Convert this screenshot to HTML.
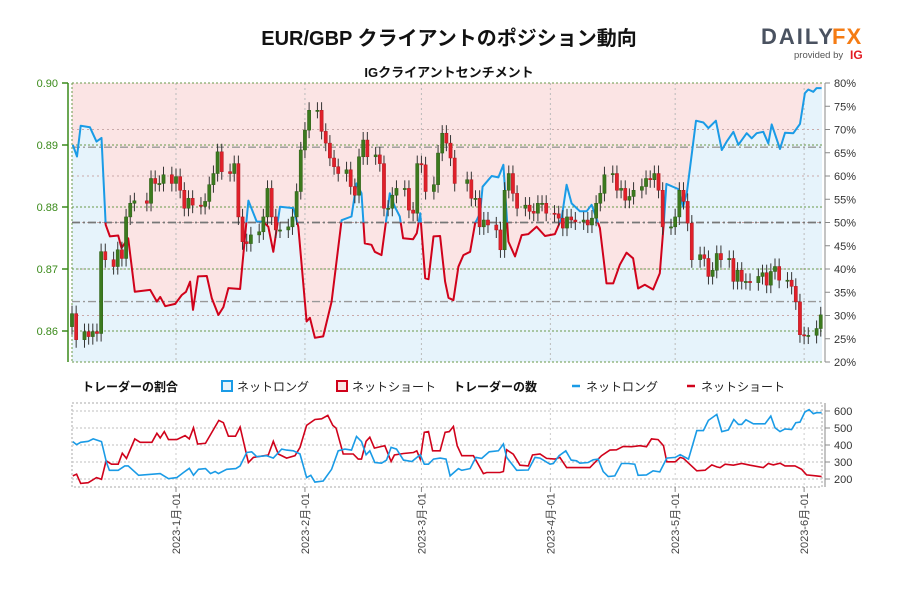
<!DOCTYPE html>
<html><head><meta charset="utf-8">
<style>
html,body{margin:0;padding:0;background:#fff;}
body{width:900px;height:600px;overflow:hidden;font-family:"Liberation Sans","Noto Sans CJK JP",sans-serif;}
svg text{font-family:"Liberation Sans","Noto Sans CJK JP",sans-serif;}
</style></head>
<body>
<svg id="chart" width="900" height="600" viewBox="0 0 900 600" xmlns="http://www.w3.org/2000/svg">
<text x="449" y="45" text-anchor="middle" font-size="20" font-weight="bold" fill="#111">EUR/GBP クライアントのポジション動向</text>
<text x="449" y="77" text-anchor="middle" font-size="13" font-weight="bold" fill="#111">IGクライアントセンチメント</text>
<g>
<text x="761" y="44" font-size="22" font-weight="bold" fill="#4a5260" letter-spacing="2">DAILY</text>
<text x="832" y="44" font-size="22" font-weight="bold" fill="#f57c14" letter-spacing="1">FX</text>
<text x="794" y="58" font-size="9.5" fill="#555">provided by</text>
<text x="850" y="59" font-size="12" font-weight="bold" fill="#e21a22">IG</text>
</g>
<g id="main"></g>
<g id="legend">
<text x="82" y="391" font-size="12" font-weight="bold" fill="#111">トレーダーの割合</text>
<rect x="222" y="381" width="10" height="10" fill="#e6f3fb" stroke="#1a9be6" stroke-width="2"/>
<text x="237" y="391" font-size="12" fill="#222">ネットロング</text>
<rect x="337" y="381" width="10" height="10" fill="#fbe4e4" stroke="#d0021b" stroke-width="2"/>
<text x="352" y="391" font-size="12" fill="#222">ネットショート</text>
<text x="453" y="391" font-size="12" font-weight="bold" fill="#111">トレーダーの数</text>
<line x1="572" y1="386" x2="580" y2="386" stroke="#1a9be6" stroke-width="2.5"/>
<text x="586" y="391" font-size="12" fill="#222">ネットロング</text>
<line x1="687" y1="386" x2="695" y2="386" stroke="#d0021b" stroke-width="2.5"/>
<text x="701" y="391" font-size="12" fill="#222">ネットショート</text>
</g>
<g id="lower"></g>
</svg>
<script>
// ===== data =====
const candleDay=[0,1,3,4,5,6,7,8,10,11,12,13,14,15,18,19,20,21,22,24,25,26,27,28,29,31,32,33,34,35,36,38,39,40,41,42,43,45,46,47,48,49,50,52,53,54,55,56,57,59,60,61,62,63,64,66,67,68,69,70,71,73,74,75,76,77,78,80,81,82,83,84,85,87,88,89,90,91,92,95,96,97,98,99,100,102,103,104,105,106,107,109,110,111,112,113,114,116,117,118,119,120,121,123,124,125,126,127,128,130,131,132,133,134,135,137,138,139,140,141,142,144,145,146,147,148,149,151,152,153,154,155,156,158,159,160,161,162,163,165,166,167,168,169,170,172,173,174,175,176,177,179,180];
const candleClose=[0.8628,0.8586,0.8599,0.8591,0.8599,0.8596,0.8728,0.8715,0.8704,0.8731,0.8717,0.8784,0.8806,0.8810,0.8806,0.8846,0.8838,0.8838,0.8852,0.8838,0.8849,0.8827,0.8798,0.8814,0.8803,0.8801,0.8809,0.8836,0.8854,0.8889,0.8857,0.8854,0.8870,0.8784,0.8744,0.8741,0.8755,0.8760,0.8784,0.8830,0.8784,0.8763,0.8763,0.8768,0.8784,0.8825,0.8892,0.8924,0.8956,0.8956,0.8922,0.8903,0.8879,0.8865,0.8854,0.8860,0.8833,0.8819,0.8881,0.8908,0.8881,0.8884,0.8870,0.8798,0.8798,0.8819,0.8830,0.8830,0.8795,0.8790,0.8870,0.8868,0.8825,0.8836,0.8887,0.8919,0.8903,0.8879,0.8838,0.8844,0.8814,0.8814,0.8768,0.8779,0.8771,0.8763,0.8731,0.8827,0.8854,0.8822,0.8798,0.8803,0.8793,0.8790,0.8806,0.8806,0.8790,0.8789,0.8782,0.8766,0.8784,0.8779,0.8776,0.8779,0.8771,0.8782,0.8806,0.8822,0.8852,0.8854,0.8827,0.8830,0.8811,0.8817,0.8827,0.8833,0.8846,0.8844,0.8854,0.8827,0.8768,0.8768,0.8784,0.8827,0.8809,0.8774,0.8715,0.8723,0.8717,0.8688,0.8698,0.8725,0.8715,0.8717,0.8680,0.8698,0.8680,0.8680,0.8678,0.8688,0.8694,0.8674,0.8696,0.8704,0.8682,0.8682,0.8672,0.8647,0.8594,0.8592,0.8593,0.8604,0.8626];
const firstOpen=0.8607;
const sentDay=[0.2,1.2,2.1,4.3,5.9,7.1,8.1,9.1,11.1,11.9,13.5,15.1,18.8,20.4,21.2,22.4,24.8,26.4,27.4,28.4,29.1,30.3,32.4,33.6,35.2,36.4,37.6,40.4,42.4,44.4,45.9,47.2,48.4,50,53.2,54.4,56.4,57.2,58.4,60.4,62.4,64.8,67.2,68.4,69.6,70.4,72,72.8,74.4,76.4,77.6,78.8,79.6,82,82.9,83.7,84.9,85.7,86.9,88.5,89.7,90.5,91.7,92.9,94.1,95.7,96.9,98.1,98.7,100.9,102.5,103.7,104.9,106.5,108.1,109.7,111.7,113.7,116.1,117.7,118.9,120.1,122.1,123.7,124.9,126.9,128.5,130.1,131.7,133.3,134.9,136.1,137.7,139.7,141.3,142.3,142.9,145.7,146.9,147.8,150,151.8,153,154.8,156.2,157.4,159,160.2,162.2,163.4,164.6,166.2,167.4,168.2,170.2,171.4,173.4,175,176.2,177,178.2,179,180.2];
const sentLong=[66.7,64.2,70.8,70.5,67.4,68.2,49.5,47,47.2,44.5,46.6,35.1,35.5,33,34,32,32.5,34.4,35.1,37.3,31.2,38.4,38.5,33.7,30.1,31.8,35.9,35.7,54.7,50.2,50.2,49.1,43.7,53.4,53.1,49.1,28.7,29.5,25.2,25.5,33,50.5,51.3,58.4,56.3,45.5,45.2,43.7,43,56.3,53.4,51.3,46.6,46.4,47.7,52,38,37.8,47,47.1,37.3,33.8,33.3,40.5,43,43.7,49.8,52,57.7,60,59.7,62.4,45.9,42.7,47.3,47.5,49.1,47.1,47.5,50.9,58.1,54.1,52.4,52.4,53.8,48.8,36.9,36.9,40.9,43.5,42.3,35.8,36.6,35.6,39.1,50.2,58.3,57.2,53.4,56.3,71.9,71.5,70.3,71.9,65.6,67.4,69.5,66.7,69.2,68.1,69.2,69.5,67,71.1,65.8,69.3,69.2,71.2,77.8,78.6,78.1,78.9,78.9];
const longDay=[0.2,1.1,2.1,3.9,5.1,7.1,8.3,9,11.1,12.7,13.5,16,21.2,23.2,25.2,26.8,28.2,29.2,30.4,32.1,33.3,34.4,35.2,37.2,39.4,40.4,42,43.2,44.4,46.8,48.4,50.4,51.6,53.2,54.8,56.4,57.4,58.4,60.4,62.4,64,65.6,67.2,68.4,69.6,70.7,71.6,72.8,74.4,75.6,76.7,78,79.7,81.7,83.7,84.7,85.7,86.9,88.5,89.9,90.9,92.9,93.7,95.7,97.1,98.5,100.3,102.5,103.7,104.5,106.9,109.7,111.3,112.5,114.9,115.7,117.1,118.7,120,121.3,122.1,124.1,125.3,126.5,127.7,128.9,130.5,132.1,133.7,135.3,136.1,138.1,139.7,141.3,143,145,146.2,148.2,150.2,151.8,153,155,156.2,157.8,159.1,160.2,161,162,163.8,166.6,168,169,170.2,171.4,173,174,175,176.2,177.2,178.2,179,180.2];
const longCount=[420,402,416,422,436,420,297,251,251,277,277,222,232,202,208,238,263,222,257,261,232,244,232,257,261,277,356,360,331,337,323,376,370,366,347,208,222,182,188,257,366,376,370,450,420,343,366,297,293,311,386,376,311,303,343,287,287,317,323,317,218,261,251,261,327,321,360,366,406,327,251,253,327,323,287,291,337,366,311,307,293,297,313,317,244,214,218,291,291,287,222,224,248,242,323,327,343,317,485,485,545,580,479,489,550,521,521,548,525,525,570,501,479,495,491,531,535,594,608,584,590,590];
const shortDay=[0.2,1.1,2.1,3.9,5.9,7.1,8.2,9.5,11.1,12.1,13.1,15.1,16.4,19.2,20.4,21.2,22.2,23.2,25.2,27.2,28.2,29.2,30.2,32.1,35.3,36.4,37.6,39.3,40.4,42.4,43.6,47.2,48.4,49.6,51.6,53.6,54.8,56.4,58.4,60,61.5,62.7,63.5,65.2,67.6,68.8,69.6,70.7,71.6,72.7,75.2,76.7,77.5,79.7,82.1,82.9,83.7,84.7,85.7,86.7,88.5,89.7,90.7,91.7,92.6,93.7,96.5,98.9,99.7,102.9,103.7,104.5,106.1,107.7,109.7,110.7,112.5,114.1,116.1,117.3,118.9,124.5,126.5,127.3,129.3,130.9,132.5,134.5,136.5,138.1,139.3,140.9,142.2,143,145,146.2,147,150.2,152.2,153.8,155,155.8,157,159,161,163,166.2,167.4,168.6,170.2,171.4,173.8,175.4,176.6,179,180.2];
const shortCount=[218,228,174,178,208,198,307,287,287,352,321,436,416,416,469,442,479,432,432,455,436,501,406,410,545,531,452,452,505,297,327,341,422,347,323,337,386,515,550,554,574,515,499,347,347,317,317,422,446,382,396,303,341,350,356,366,317,475,479,366,366,475,479,509,396,337,337,232,238,238,244,372,346,281,277,341,347,321,317,327,267,267,317,337,370,372,392,390,396,390,436,432,396,301,301,327,321,248,252,283,271,267,287,281,291,281,267,291,283,293,277,277,257,224,218,214];
const priceTicks=[0.86,0.87,0.88,0.89,0.90];
const priceTickLabels=["0.86","0.87","0.88","0.89","0.90"];
const pctTicks=[20,25,30,35,40,45,50,55,60,65,70,75,80];
const countTicks=[200,300,400,500,600];
const monthDays=[25,56,84,115,145,176];
const monthLabels=["2023-1月-01","2023-2月-01","2023-3月-01","2023-4月-01","2023-5月-01","2023-6月-01"];
const refPcts=[66.2,50,33];

// ===== scales =====
const X0=72,X1=822,DAYS=180.3;
const xS=d=>X0+d*(X1-X0)/DAYS;
const PT=83,PB=362;
const yP=v=>PT+(0.90-v)*6200;
const yPct=p=>PT+(80-p)*(PB-PT)/60;
const LT=403,LB=487;
const yC=v=>411+(600-v)*0.17;
const NS="http://www.w3.org/2000/svg";
function mk(parent,tag,attrs,txt){const e=document.createElementNS(NS,tag);for(const k in attrs)e.setAttribute(k,attrs[k]);if(txt!==undefined)e.textContent=txt;parent.appendChild(e);return e;}

const main=document.getElementById('main');
// sentiment fills
const pts=sentDay.map((d,i)=>[xS(d),yPct(sentLong[i])]);
const lineStr=pts.map(p=>p[0].toFixed(1)+','+p[1].toFixed(1)).join(' ');
const fx0=pts[0][0],fx1=pts[pts.length-1][0];
let e;
e=mk(main,'rect',{x:X0,y:PT,width:X1-X0,height:PB-PT,fill:'#fbe4e4'});


e=mk(main,'polygon',{points:X0+','+PB+' '+X0+','+pts[0][1].toFixed(1)+' '+lineStr+' '+X1+','+pts[pts.length-1][1].toFixed(1)+' '+X1+','+PB,fill:'#e6f3fb'});


// grids
pctTicks.forEach(p=>{if(p%10===0&&p>20&&p<80){e=mk(main,'line',{x1:X0,x2:X1,y1:yPct(p),y2:yPct(p),stroke:'#c9a9a9',"stroke-width":1,"stroke-dasharray":"2,3"});

}});
monthDays.forEach(d=>{e=mk(main,'line',{x1:xS(d),x2:xS(d),y1:PT,y2:PB,stroke:'#bbb',"stroke-width":1,"stroke-dasharray":"2,3"});

});
priceTicks.forEach(v=>{e=mk(main,'line',{x1:X0,x2:X1,y1:yP(v),y2:yP(v),stroke:'#6a9a4a',"stroke-width":1,"stroke-dasharray":"2,2"});

});
e=mk(main,'line',{x1:X0,x2:X1,y1:PB,y2:PB,stroke:'#6a9a4a',"stroke-width":1,"stroke-dasharray":"2,2"});


e=mk(main,'line',{x1:X0,x2:X0,y1:PT,y2:PB,stroke:'#6a9a4a',"stroke-width":1,"stroke-dasharray":"2,2"});


refPcts.forEach(p=>{e=mk(main,'line',{x1:X0,x2:X1,y1:yPct(p),y2:yPct(p),stroke:p===50?'#777':'#999',"stroke-width":p===50?1.8:1.4,"stroke-dasharray":"8,3,2,3"});

});
// sentiment line with colors
const defs=mk(main,'defs',{});
const c1=mk(defs,'clipPath',{id:'above'});mk(c1,'rect',{x:0,y:0,width:900,height:yPct(50)});
const c2=mk(defs,'clipPath',{id:'below'});mk(c2,'rect',{x:0,y:yPct(50),width:900,height:600});
e=mk(main,'polyline',{points:lineStr,fill:'none',stroke:'#1a9be6',"stroke-width":2,"clip-path":"url(#above)","stroke-linejoin":"round"});


e=mk(main,'polyline',{points:lineStr,fill:'none',stroke:'#d0021b',"stroke-width":2,"clip-path":"url(#below)","stroke-linejoin":"round"});


// candles
candleClose.forEach((c,i)=>{
  const o=i===0?firstOpen:candleClose[i-1];
  const hi=Math.max(o,c)+0.0013,lo=Math.min(o,c)-0.0013;
  const x=xS(candleDay[i]);
  const g=mk(main,'g',{});
  
  
  mk(g,'line',{x1:x,x2:x,y1:yP(hi),y2:yP(lo),stroke:'#333',"stroke-width":1});
  const up=c>=o;const top=yP(Math.max(o,c)),h=Math.max(1.2,yP(Math.min(o,c))-top);
  mk(g,'rect',{x:x-1.6,y:top,width:3.2,height:h,fill:up?'#3c7a1e':'#e0202a',stroke:up?'#2d5e16':'#b01820',"stroke-width":0.5});
});
// left axis
e=mk(main,'line',{x1:68,x2:68,y1:PT,y2:PB,stroke:'#3a8a1a',"stroke-width":1.5});


priceTicks.forEach((v,i)=>{
  mk(main,'line',{x1:62,x2:68,y1:yP(v),y2:yP(v),stroke:'#3a8a1a',"stroke-width":1.5});
  e=mk(main,'text',{x:58,y:yP(v)+4,"text-anchor":"end","font-size":11,fill:'#3a8a1a'},priceTickLabels[i]);
  
  
});
// right axis
e=mk(main,'line',{x1:825,x2:825,y1:PT,y2:PB,stroke:'#888',"stroke-width":1});


pctTicks.forEach(p=>{
  mk(main,'line',{x1:825,x2:830,y1:yPct(p),y2:yPct(p),stroke:'#888',"stroke-width":1});
  e=mk(main,'text',{x:834,y:yPct(p)+4,"font-size":11,fill:'#333'},p+'%');
  
  
});

// ===== lower panel =====
const low=document.getElementById('lower');
e=mk(low,'rect',{x:X0,y:LT,width:X1-X0,height:LB-LT,fill:'none',stroke:'#aaa',"stroke-width":1,"stroke-dasharray":"2,2"});


countTicks.forEach(v=>{
  e=mk(low,'line',{x1:X0,x2:X1,y1:yC(v),y2:yC(v),stroke:'#ccc',"stroke-width":1.2,"stroke-dasharray":"2,2"});
  
  
  mk(low,'line',{x1:825,x2:830,y1:yC(v),y2:yC(v),stroke:'#888',"stroke-width":1});
  e=mk(low,'text',{x:834,y:yC(v)+4,"font-size":11,fill:'#333'},String(v));
  
  
});
mk(low,'line',{x1:825,x2:825,y1:LT,y2:LB,stroke:'#888',"stroke-width":1});
monthDays.forEach((d,i)=>{
  const x=xS(d);
  mk(low,'line',{x1:x,x2:x,y1:LT,y2:LB,stroke:'#ccc',"stroke-width":1,"stroke-dasharray":"2,3"});
  mk(low,'line',{x1:x,x2:x,y1:LB,y2:LB+5,stroke:'#888',"stroke-width":1});
  e=mk(low,'text',{x:x+4,y:493,"font-size":11,fill:'#444',"text-anchor":"end",transform:'rotate(-90 '+(x+4)+' 493)'},monthLabels[i]);
  
  
});
e=mk(low,'polyline',{points:shortDay.map((d,i)=>xS(d).toFixed(1)+','+yC(shortCount[i]).toFixed(1)).join(' '),fill:'none',stroke:'#d0021b',"stroke-width":1.6});


e=mk(low,'polyline',{points:longDay.map((d,i)=>xS(d).toFixed(1)+','+yC(longCount[i]).toFixed(1)).join(' '),fill:'none',stroke:'#1a9be6',"stroke-width":1.6});


</script>
</body></html>
